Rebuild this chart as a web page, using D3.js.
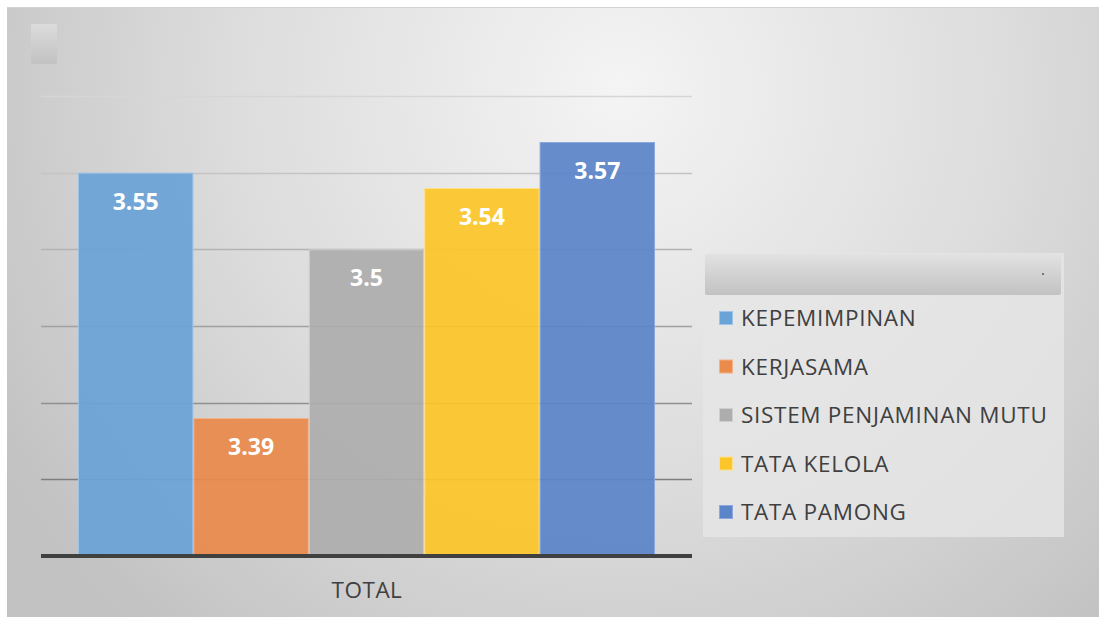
<!DOCTYPE html>
<html><head><meta charset="utf-8">
<script src="https://cdn.jsdelivr.net/npm/d3@7"></script>
<style>body{margin:0;background:#fff;}svg{display:block;}</style>
</head><body>
<svg id="c" width="1099" height="617"></svg>
<script>
const categories = ["KEPEMIMPINAN","KERJASAMA","SISTEM PENJAMINAN MUTU","TATA KELOLA","TATA PAMONG"];
const values = [3.55, 3.39, 3.5, 3.54, 3.57];
const colors = ["#6aa3d6","#ea8a4b","#adadad","#fcc62a","#5b84c9"];
const borders = ["#9cc3e8","#f4b088","#cfcfcf","#fde08a","#8aa8dc"];
const groupLabel = "TOTAL";
const yTicks = [3.3, 3.35, 3.4, 3.45, 3.5, 3.55, 3.6];

const svg = d3.select("#c");
const defs = svg.append("defs");
const rg = defs.append("radialGradient").attr("id","bg")
  .attr("gradientUnits","userSpaceOnUse").attr("cx",620).attr("cy",90).attr("r",720)
  .attr("fx",620).attr("fy",90);
rg.append("stop").attr("offset","0").attr("stop-color","#f4f4f4");
rg.append("stop").attr("offset","0.55").attr("stop-color","#dcdcdc");
rg.append("stop").attr("offset","1").attr("stop-color","#c2c2c2");
const hg = defs.append("linearGradient").attr("id","hdr").attr("x1",0).attr("y1",0).attr("x2",0).attr("y2",1);
hg.append("stop").attr("offset","0").attr("stop-color","#e2e2e2");
hg.append("stop").attr("offset","1").attr("stop-color","#c2c2c2");
const tg = defs.append("linearGradient").attr("id","tl").attr("x1",0).attr("y1",0).attr("x2",0).attr("y2",1);
tg.append("stop").attr("offset","0").attr("stop-color","#dcdcdc");
tg.append("stop").attr("offset","1").attr("stop-color","#c2c2c2");

svg.append("rect").attr("x",7).attr("y",7).attr("width",1092).attr("height",610).attr("fill","url(#bg)");
svg.append("line").attr("x1",7).attr("x2",1099).attr("y1",7.5).attr("y2",7.5).attr("stroke","#d2d2d2");
svg.append("rect").attr("x",31).attr("y",24).attr("width",26).attr("height",40).attr("rx",1).attr("fill","url(#tl)");

const left = 41, right = 692;
const y = d3.scaleLinear().domain([3.3, 3.6]).range([556, 96]);
const x0 = d3.scaleBand().domain([groupLabel]).range([left, right]);
const x1 = d3.scaleBand().domain(categories).range([78, 655]).padding(0);

const gc = d3.scaleLinear().domain([3.6, 3.35]).range(["#d6d6d6","#7e7e7e"]);
svg.append("g").selectAll("line").data(yTicks.filter(t => t > 3.3)).join("line")
  .attr("x1", left).attr("x2", right)
  .attr("y1", d => Math.round(y(d)) + 0.5).attr("y2", d => Math.round(y(d)) + 0.5)
  .attr("stroke", d => gc(d)).attr("stroke-width", 1.5);

const bars = svg.append("g").selectAll("g").data(values).join("g");
bars.append("rect")
  .attr("x", (d,i) => x1(categories[i]) + 0.5)
  .attr("y", d => y(d) + 0.5)
  .attr("width", x1.bandwidth() - 1)
  .attr("height", d => y(3.3) - y(d) - 0.5)
  .attr("fill", (d,i) => colors[i]).attr("fill-opacity", 0.93)
  .attr("stroke", (d,i) => borders[i]).attr("stroke-width", 1);
bars.append("text")
  .attr("x", (d,i) => x1(categories[i]) + x1.bandwidth()/2)
  .attr("y", d => y(d) + 37)
  .attr("text-anchor","middle")
  .attr("font-family","'Open Sans', sans-serif").attr("font-weight","bold").attr("font-size",23)
  .attr("fill","#fff")
  .text(d => d);

svg.append("line").attr("x1", left).attr("x2", right).attr("y1", 556).attr("y2", 556)
  .attr("stroke","#404040").attr("stroke-width",4);

svg.append("text").attr("x", x0(groupLabel) + x0.bandwidth()/2 + 0.5).attr("y", 598)
  .attr("text-anchor","middle").attr("font-family","'Open Sans', sans-serif").attr("font-size",22.5)
  .attr("letter-spacing",0.5)
  .attr("fill","#404040").text(groupLabel);

// legend
const lg = svg.append("g");
lg.append("rect").attr("x",703).attr("y",253).attr("width",361).attr("height",284).attr("fill","#e6e6e6").attr("fill-opacity",0.8);
lg.append("rect").attr("x",705).attr("y",254).attr("width",356).attr("height",41).attr("rx",2).attr("fill","url(#hdr)");
lg.append("rect").attr("x",1042).attr("y",273).attr("width",2).attr("height",2).attr("fill","#777");
const ly = d3.scalePoint().domain(categories).range([318, 512]);
const items = lg.selectAll("g.it").data(categories).join("g").attr("class","it");
items.append("rect").attr("x",719.5).attr("y", d => ly(d) - 6.5).attr("width",13).attr("height",13)
  .attr("fill",(d,i)=>colors[i]).attr("stroke",(d,i)=>borders[i]).attr("stroke-width",1);
items.append("text").attr("x",741).attr("y", d => ly(d) + 8)
  .attr("font-family","'Open Sans', sans-serif").attr("font-size",22.5).attr("letter-spacing",0.7).attr("fill","#404040")
  .text(d => d);
</script>
</body></html>
